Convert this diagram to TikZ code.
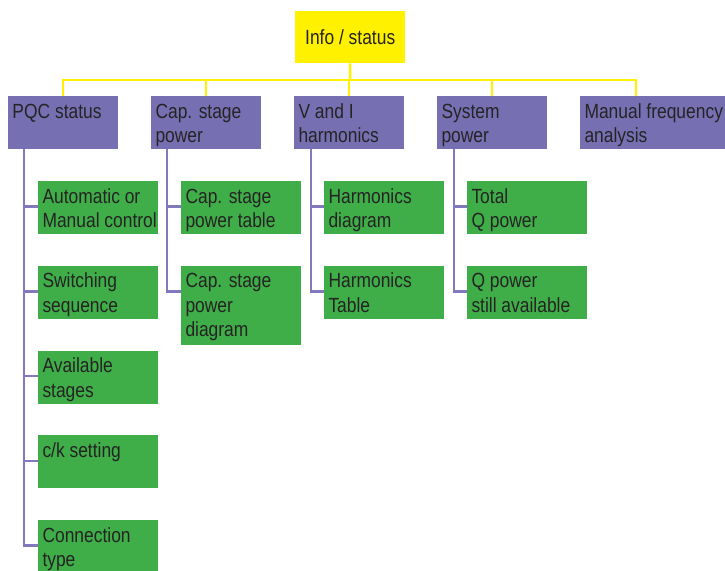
\documentclass[tikz,border=0pt]{standalone}
\usepackage{fontspec}
\setmainfont{Liberation Sans}[FakeStretch=0.85]
\definecolor{cyellow}{HTML}{FFF100}
\definecolor{cpurple}{HTML}{7670B3}
\definecolor{cline}{HTML}{8079BD}
\definecolor{cgreen}{HTML}{3FAE49}
\definecolor{ctext}{HTML}{252323}
\tikzset{
  ybox/.style={fill=cyellow, inner sep=0pt, minimum width=110pt, minimum height=52pt, anchor=north west,
    text=ctext, font={\fontsize{20.5}{24.5}\selectfont}},
  pbox/.style={fill=cpurple, inner sep=0pt, minimum width=110pt, minimum height=53pt, anchor=north west},
  gbox/.style={fill=cgreen, inner sep=0pt, minimum width=120pt, minimum height=53pt, anchor=north west},
  txt/.style={anchor=north west, inner xsep=4.3pt, inner ysep=7pt, align=left, text=ctext,
    font={\fontsize{20.5}{24.5}\selectfont}},
  yline/.style={draw=cyellow, line width=2.5pt},
  pline/.style={draw=cline, line width=2.5pt},
}
\newcommand\fl{\rule{0pt}{15pt}}
\begin{document}
\begin{tikzpicture}[x=1pt,y=-1pt]
\useasboundingbox (0,0) rectangle (725,570);
\clip (0,0) rectangle (725,570);
% top
\node[ybox] (info) at (295,11) {Info / status};
\coordinate (bus) at (350,80);
% level 1
\node[pbox, label={[txt,name=tpqc]north west:{\fl PQC status}}] (pqc) at (8,96) {};
\node[pbox, label={[txt,name=tcap]north west:{\fl Cap. stage\\power}}] (cap) at (151,96) {};
\node[pbox, label={[txt,name=tvi]north west:{\fl V and I\\harmonics}}] (vi) at (294,96) {};
\node[pbox, label={[txt,name=tsys]north west:{\fl System\\power}}] (sys) at (437,96) {};
\node[pbox, minimum width=150pt, label={[txt,name=tman]north west:{\fl Manual frequency\\analysis}}] (man) at (580,96) {};
% PQC children
\node[gbox, label={[txt,name=ta1]north west:{\fl Automatic or\\Manual control}}] (a1) at (38,181) {};
\node[gbox, label={[txt,name=ta2]north west:{\fl Switching\\sequence}}] (a2) at (38,265.75) {};
\node[gbox, label={[txt,name=ta3]north west:{\fl Available\\stages}}] (a3) at (38,350.5) {};
\node[gbox, label={[txt,name=ta4]north west:{\fl c/k setting}}] (a4) at (38,435.25) {};
\node[gbox, label={[txt,name=ta5]north west:{\fl Connection\\type}}] (a5) at (38,520) {};
% Cap children
\node[gbox, label={[txt,name=tb1]north west:{\fl Cap. stage\\power table}}] (b1) at (181,181) {};
\node[gbox, minimum height=79pt, label={[txt,name=tb2]north west:{\fl Cap. stage\\power\\diagram}}] (b2) at (181,265.75) {};
% V and I children
\node[gbox, label={[txt,name=tc1]north west:{\fl Harmonics\\diagram}}] (c1) at (324,181) {};
\node[gbox, label={[txt,name=tc2]north west:{\fl Harmonics\\Table}}] (c2) at (324,265.75) {};
% System children
\node[gbox, label={[txt,name=td1]north west:{\fl Total\\Q power}}] (d1) at (467,181) {};
\node[gbox, label={[txt,name=td2]north west:{\fl Q power\\still available}}] (d2) at (467,265.75) {};
% yellow connectors
\draw[yline] (info.south) -- (bus);
\draw[yline] (pqc.north) |- (bus) -| ([xshift=56pt]man.north west);
\draw[yline] (cap.north) -- (cap.north |- bus);
\draw[yline] (vi.north) -- (vi.north |- bus);
\draw[yline] (sys.north) -- (sys.north |- bus);
% purple connectors
\foreach \c in {a1,a2,a3,a4,a5}
  \draw[pline] ([xshift=16pt]pqc.south west) |- ([yshift=-25.5pt]\c.north west);
\foreach \c in {b1,b2}
  \draw[pline] ([xshift=16pt]cap.south west) |- ([yshift=-25.5pt]\c.north west);
\foreach \c in {c1,c2}
  \draw[pline] ([xshift=17pt]vi.south west) |- ([yshift=-25.5pt]\c.north west);
\foreach \c in {d1,d2}
  \draw[pline] ([xshift=17pt]sys.south west) |- ([yshift=-25.5pt]\c.north west);
\end{tikzpicture}
\end{document}
